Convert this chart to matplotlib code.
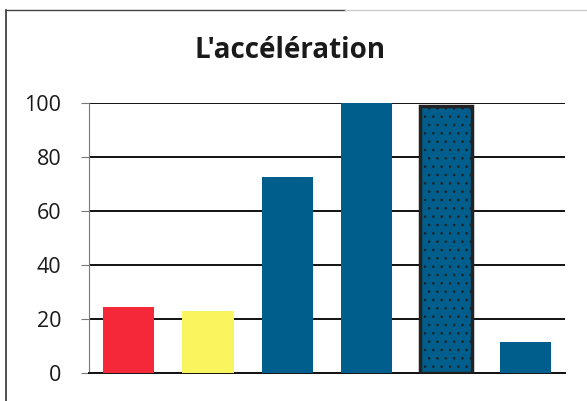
import matplotlib
matplotlib.use("Agg")
import matplotlib.pyplot as plt
from matplotlib.lines import Line2D

categories = ["A", "B", "C", "D", "E", "F"]
values = [24.5, 22.8, 72.5, 100, 99, 11.5]
colors = ["#F42838", "#FAF45E", "#005E8C", "#005E8C", "#005E8C", "#005E8C"]
yticks = [0, 20, 40, 60, 80, 100]
title = "L'accélération"

plt.rcParams["font.family"] = ["Open Sans", "DejaVu Sans"]
plt.rcParams["hatch.linewidth"] = 0.6

fig = plt.figure(figsize=(5.87, 4.01), dpi=100)
ax = fig.add_axes([89 / 587, (401 - 373) / 401, (565 - 89) / 587, (373 - 103) / 401])

x = list(range(len(categories)))
bars = ax.bar(x, values, width=0.65, color=colors, zorder=3)

# outlined, stippled fifth column
bars[4].set_edgecolor("#222222")
bars[4].set_linewidth(2.5)
bars[4].set_hatch("..")

ax.set_xlim(-0.5, len(categories) - 0.5)
ax.set_ylim(0, 100)
ax.set_yticks(yticks)
ax.set_yticklabels([str(v) for v in yticks], fontsize=15.5, color="#1a1a1a")
ax.set_xticks([])

ax.yaxis.grid(True, color="#111111", linewidth=1.4, zorder=1)
ax.set_axisbelow(True)
for side in ["top", "right"]:
    ax.spines[side].set_visible(False)
ax.spines["bottom"].set_color("#111111")
ax.spines["bottom"].set_linewidth(1.4)
ax.spines["left"].set_color("#777777")
ax.spines["left"].set_linewidth(0.8)
ax.tick_params(axis="y", length=6, width=0.8, color="#777777", pad=14)

fig.text(290 / 587, 1 - 50 / 401, title, ha="center", va="center",
         fontsize=20, fontweight="bold", color="#1a1a1a")

# chart frame
fig.add_artist(Line2D([6 / 587, 6 / 587], [0, 1 - 10 / 401], color="#333333", linewidth=1.2))
fig.add_artist(Line2D([6 / 587, 345 / 587], [1 - 10 / 401, 1 - 10 / 401], color="#444444", linewidth=1.0))
fig.add_artist(Line2D([345 / 587, 587 / 587], [1 - 10 / 401, 1 - 10 / 401], color="#cccccc", linewidth=1.0))

fig.savefig("out.png", dpi=100)
